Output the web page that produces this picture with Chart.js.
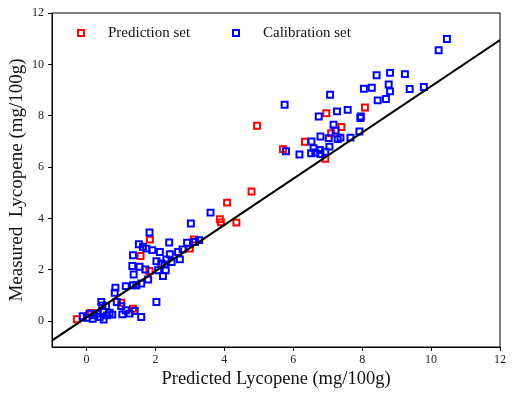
<!DOCTYPE html>
<html>
<head>
<meta charset="utf-8">
<script src="https://cdn.jsdelivr.net/npm/chart.js@4/dist/chart.umd.min.js"></script>
<style>
  html, body { margin: 0; padding: 0; background: #fff; }
  #wrap { width: 515px; height: 398px; }
</style>
</head>
<body>
<div id="wrap"><canvas id="scatter"></canvas></div>
<script>
/* ------------------------------- Chart data ------------------------------- */
const predX = [-0.28, 0.14, 1.01, 1.35, 1.57, 1.84, 1.83, 3.0, 3.12, 3.87, 3.9, 4.35, 4.08, 4.79, 4.95, 5.7, 6.34, 6.93, 6.96, 7.1, 7.4, 8.08];
const predY = [0.08, 0.32, 0.72, 0.49, 2.54, 3.18, 1.96, 2.83, 3.19, 3.97, 3.85, 3.84, 4.62, 5.05, 7.61, 6.7, 6.99, 6.33, 8.1, 7.32, 7.56, 8.32];

const calX = [
  10.46, 10.22, 9.79, 9.38, 9.24, 8.81, 8.77, 8.81, 8.69, 8.42, 8.45, 8.28, 8.05, 7.96, 7.95, 7.92,
  7.58, 7.66, 7.27, 7.07, 6.74, 7.17, 7.23, 7.29, 7.37, 7.03, 6.79, 6.53, 7.05, 6.59, 6.77, 6.52,
  6.64, 6.79, 6.18, 6.93, 5.79, 5.75,
  3.6, 3.03, 3.27, 3.15, 2.92, 2.79, 2.66, 2.71, 2.4, 2.42, 2.32, 2.27, 2.47, 2.13, 2.03, 2.17,
  2.08, 2.3, 2.22, 1.91, 1.74, 1.64, 1.52, 1.83, 1.35, 1.33, 1.37, 1.54, 1.71, 1.79, 1.59, 1.45,
  1.35, 1.14, 2.03, 0.84, 0.82, 0.88, 1.01, 1.04, 1.14, 1.25, 1.4, 1.59,
  0.43, 0.46, 0.57, 0.67, 0.75, 0.59, 0.5, 0.38, 0.23, 0.09, 0.01, -0.11, 0.18, 0.33, 0.48
];
const calY = [
  10.99, 10.55, 9.12, 9.04, 9.62, 9.67, 9.22, 8.95, 8.65, 9.58, 8.6, 9.09, 9.05, 7.97, 7.91, 7.39,
  8.23, 7.15, 8.17, 8.82, 7.97, 7.65, 7.43, 7.09, 7.15, 7.13, 7.19, 7.0, 6.8, 6.74, 6.67, 6.54,
  6.57, 6.51, 6.49, 6.6, 6.62, 8.43,
  4.23, 3.81, 3.16, 3.09, 3.06, 2.8, 2.7, 2.41, 3.07, 2.61, 2.41, 2.21, 2.31, 2.7, 2.34, 2.25,
  1.99, 1.99, 1.76, 2.77, 2.83, 2.9, 3.0, 3.46, 2.57, 2.15, 1.82, 2.12, 2.02, 1.63, 1.47, 1.4,
  1.4, 1.37, 0.75, 1.31, 1.11, 0.75, 0.59, 0.27, 0.43, 0.3, 0.4, 0.17,
  0.75, 0.62, 0.59, 0.33, 0.26, 0.23, 0.07, 0.17, 0.23, 0.3, 0.14, 0.2, 0.1, 0.3, 0.36
];

// fitted line y = slope * x + intercept
const fitSlope = 0.9;
const fitIntercept = 0.15;
const fitRange = [-1, 12];

const xTicks = [0, 2, 4, 6, 8, 10, 12];
const yTicks = [0, 2, 4, 6, 8, 10, 12];

const seriesNames = ["Prediction set", "Calibration set"];
const seriesColors = ["#ff0000", "#0000ff"];

/* ------------------------------ Helpers ----------------------------------- */
const toPoints = (xs, ys) => xs.map((x, i) => ({ x: x, y: ys[i] }));
const serif = '"Liberation Serif", "Times New Roman", serif';

// frame on top/right + legend inside the plot
const framePlugin = {
  id: "frame",
  afterDraw(chart) {
    const { ctx, chartArea } = chart;
    ctx.save();
    ctx.strokeStyle = "#000";
    ctx.lineWidth = 1;
    ctx.strokeRect(chartArea.left, chartArea.top, chartArea.right - chartArea.left, chartArea.bottom - chartArea.top);

    // legend
    const items = [
      { x: 81, textX: 108 },
      { x: 236, textX: 263 },
    ];
    ctx.font = "15px " + serif;
    ctx.textBaseline = "middle";
    ctx.fillStyle = "#111";
    items.forEach((it, i) => {
      ctx.strokeStyle = seriesColors[i];
      ctx.lineWidth = 2;
      ctx.strokeRect(it.x - 3, 33 - 3, 6, 6);
      ctx.fillText(seriesNames[i], it.textX, 33);
    });
    ctx.restore();
  },
};

/* ------------------------------- Chart ------------------------------------ */
const ctx = document.getElementById("scatter").getContext("2d");

new Chart(ctx, {
  type: "scatter",
  data: {
    datasets: [
      {
        type: "line",
        label: "fit",
        data: fitRange.map((x) => ({ x: x, y: fitSlope * x + fitIntercept })),
        borderColor: "#000",
        borderWidth: 2,
        pointRadius: 0,
        fill: false,
      },
      {
        label: seriesNames[1],
        data: toPoints(calX, calY),
        pointStyle: "rect",
        pointRadius: 4.2,
        borderColor: seriesColors[1],
        backgroundColor: "rgba(255,255,255,0)",
        borderWidth: 2,
      },
      {
        label: seriesNames[0],
        data: toPoints(predX, predY),
        pointStyle: "rect",
        pointRadius: 4.2,
        borderColor: seriesColors[0],
        backgroundColor: "rgba(255,255,255,0)",
        borderWidth: 2,
      },
    ],
  },
  options: {
    responsive: true,
    maintainAspectRatio: false,
    animation: false,
    layout: {
      padding: { left: 0, right: 15, top: 13, bottom: 0 },
    },
    plugins: {
      legend: { display: false },
      tooltip: { enabled: false },
    },
    scales: {
      x: {
        type: "linear",
        min: -1,
        max: 12,
        afterBuildTicks: (scale) => {
          scale.ticks = xTicks.map((v) => ({ value: v }));
        },
        afterFit: (scale) => {
          scale.height = 51;
        },
        grid: {
          drawOnChartArea: false,
          drawTicks: true,
          tickLength: 4,
          color: "#000",
        },
        border: { display: true, color: "#000", width: 1 },
        ticks: {
          color: "#222",
          padding: 2,
          maxRotation: 0,
          font: { family: serif, size: 12 },
        },
        title: {
          display: true,
          text: "Predicted Lycopene (mg/100g)",
          color: "#111",
          padding: { top: 0, bottom: 8 },
          font: { family: serif, size: 18.5 },
        },
      },
      y: {
        type: "linear",
        min: -1,
        max: 12,
        afterBuildTicks: (scale) => {
          scale.ticks = yTicks.map((v) => ({ value: v }));
        },
        afterFit: (scale) => {
          scale.width = 52;
        },
        grid: {
          drawOnChartArea: false,
          drawTicks: true,
          tickLength: 4,
          color: "#000",
        },
        border: { display: true, color: "#000", width: 1 },
        ticks: {
          color: "#222",
          padding: 4,
          font: { family: serif, size: 12 },
        },
        title: {
          display: true,
          text: "Measured  Lycopene (mg/100g)",
          color: "#111",
          padding: { top: 6, bottom: 0 },
          font: { family: serif, size: 19 },
        },
      },
    },
  },
  plugins: [framePlugin],
});
</script>
</body>
</html>
